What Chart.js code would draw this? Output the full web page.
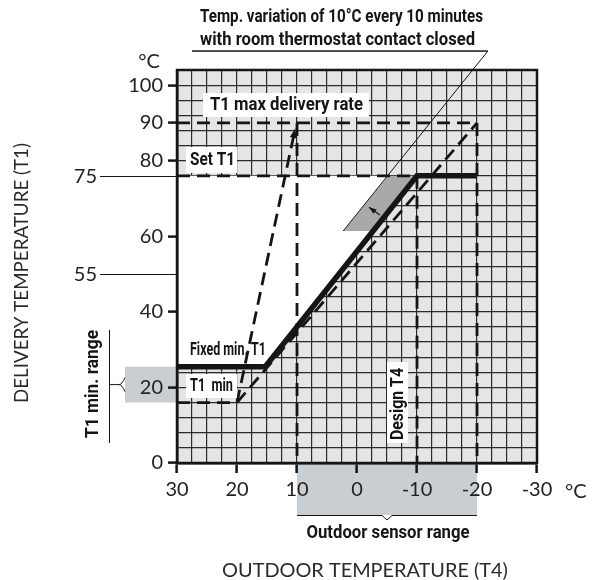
<!DOCTYPE html>
<html>
<head>
<meta charset="utf-8">
<script src="https://cdn.jsdelivr.net/npm/chart.js@4"></script>
<style>
  html, body { margin: 0; padding: 0; background: #fff; }
  #contenedor { width: 593px; height: 580px; position: relative; }
</style>
</head>
<body>
<div id="contenedor"><canvas id="grafico"></canvas></div>
<script>
// ejes
const xTickLabels = [30, 20, 10, 0, -10, -20, -30];
const yTickLabels = [0, 20, 40, 60, 80, 90, 100];
const xGrid = [];
for (let v = -30; v <= 30; v += 2.5) xGrid.push(v);
const yGrid = [];
for (let v = 0; v <= 104; v += 4) yGrid.push(v);
const yTicksAll = yGrid.concat([90]).sort((a, b) => a - b);

// curva de calefaccion (T4 exterior -> T1 impulsion)
const curveT4 = [30, 15.3, -10, -20];
const curveT1 = [25.5, 25.5, 76, 76];
// curva con T1 min y T1 max
const maxCurveT4 = [30, 20, -20];
const maxCurveT1 = [16, 16, 90];
const steepT4 = [20, 10.3];
const steepT1 = [16, 88.5];
const maxRateT4 = [30, -20];
const maxRateT1 = [90, 90];
const setT1T4 = [30, -10];
const setT1T1 = [76, 76];
const sensorMinT4 = [10, 10];
const sensorMinT1 = [90, 0];
const sensorMaxT4 = [-20, -20];
const sensorMaxT1 = [90, 0];
const designT4 = [-10, -10];
const designT1 = [76, 0];
// linea fina de la nota
const variationT4 = [27.5, -21.8, 2.3];
const variationT1 = [109, 109, 61.4];
// zonas
const whiteT4 = [30, -5.2, 2.3, -2.7, 15.3, 30];
const whiteT1 = [76, 76, 61.4, 61.4, 25.5, 25.5];
const bandT4 = [-5.2, -9.8, -2.7, 2.3];
const bandT1 = [76, 76, 61.4, 61.4];
const arrowT4 = [-3.8, -2.0];
const arrowT1 = [65.6, 67.7];
// referencias a la izquierda
const refLabels = ["75", "55"];
const refValues = [76, 50];
const t1MinRange = [16, 25.5];
const sensorRange = [10, -20];

const pts = (xs, ys) => xs.map((x, i) => ({ x, y: ys[i] }));
const INK = "#151515";
const TICK_FONT = "Lato";
const DASH = [13, 7];

function linea(data, width, dash, order) {
  return {
    data,
    showLine: true,
    pointRadius: 0,
    borderColor: INK,
    borderWidth: width,
    borderDash: dash || [],
    fill: false,
    tension: 0,
    order,
  };
}

// texto negrita estrecho, ajustado al ancho del original
function texto(ctx, txt, x, y, w, align, rot) {
  ctx.save();
  ctx.font = "bold 19px Roboto";
  const k = w / ctx.measureText(txt).width;
  ctx.translate(x, y);
  if (rot) ctx.rotate(rot);
  ctx.scale(k, 1);
  ctx.fillStyle = INK;
  ctx.textAlign = align;
  ctx.textBaseline = "middle";
  ctx.fillText(txt, 0, 0);
  ctx.restore();
}

function titulo(ctx, txt, x, y, w, rot) {
  ctx.save();
  ctx.font = `17px ${TICK_FONT}`;
  const size = 17 * w / ctx.measureText(txt).width;
  ctx.font = `${size}px ${TICK_FONT}`;
  ctx.fillStyle = "#2a2a2a";
  ctx.textAlign = "center";
  ctx.textBaseline = "middle";
  ctx.translate(x, y);
  if (rot) ctx.rotate(rot);
  ctx.fillText(txt, 0, 0);
  ctx.restore();
}

function poligono(chart, xs, ys, color) {
  const { ctx, scales } = chart;
  ctx.save();
  ctx.beginPath();
  xs.forEach((v, i) => {
    const px = scales.x.getPixelForValue(v);
    const py = scales.y.getPixelForValue(ys[i]);
    i ? ctx.lineTo(px, py) : ctx.moveTo(px, py);
  });
  ctx.closePath();
  ctx.fillStyle = color;
  ctx.fill();
  ctx.restore();
}

function punta(ctx, x0, y0, x1, y1, len, open) {
  const ang = Math.atan2(y1 - y0, x1 - x0);
  ctx.beginPath();
  ctx.moveTo(x1, y1);
  ctx.lineTo(x1 - len * Math.cos(ang - 0.35), y1 - len * Math.sin(ang - 0.35));
  ctx.lineTo(x1 - len * Math.cos(ang + 0.35), y1 - len * Math.sin(ang + 0.35));
  ctx.closePath();
  ctx.fillStyle = INK;
  ctx.fill();
}

function caja(ctx, x, y, w, h) {
  ctx.fillStyle = "#fff";
  ctx.fillRect(x, y, w, h);
}

const fondo = {
  id: "fondo",
  beforeDraw(chart) {
    const { ctx, chartArea: a, scales } = chart;
    ctx.save();
    ctx.fillStyle = "#e5e5e5";
    ctx.fillRect(a.left, a.top, a.right - a.left, a.bottom - a.top);
    // rango T1 min (a la izquierda del eje)
    const y1 = scales.y.getPixelForValue(t1MinRange[1]);
    const y0 = scales.y.getPixelForValue(t1MinRange[0]);
    ctx.fillStyle = "#c9ced3";
    ctx.fillRect(a.left - 52, y1, 52, y0 - y1);
    // rango sonda exterior (debajo del eje)
    const x0 = scales.x.getPixelForValue(sensorRange[0]);
    const x1 = scales.x.getPixelForValue(sensorRange[1]);
    ctx.fillRect(x0, a.bottom, x1 - x0, 52);
    ctx.restore();
  },
  beforeDatasetsDraw(chart) {
    poligono(chart, whiteT4, whiteT1, "#ffffff");
    poligono(chart, bandT4, bandT1, "#a9a9a9");
  },
  afterDatasetsDraw(chart) {
    const { ctx, chartArea: a, scales } = chart;
    const px = (v) => scales.x.getPixelForValue(v);
    const py = (v) => scales.y.getPixelForValue(v);
    ctx.save();
    // marco
    ctx.strokeStyle = INK;
    ctx.lineWidth = 2.5;
    ctx.strokeRect(a.left, a.top, a.right - a.left, a.bottom - a.top);

    // flecha dentro de la banda
    ctx.lineWidth = 1.2;
    ctx.beginPath();
    ctx.moveTo(px(arrowT4[0]), py(arrowT1[0]));
    ctx.lineTo(px(arrowT4[1]), py(arrowT1[1]));
    ctx.stroke();
    punta(ctx, px(arrowT4[0]), py(arrowT1[0]), px(arrowT4[1]), py(arrowT1[1]), 8);
    // punta de la recta de maxima pendiente
    punta(ctx, px(steepT4[0]), py(steepT1[0]), px(steepT4[1]), py(steepT1[1]), 10);

    // cajas blancas de las etiquetas
    caja(ctx, 203, 93, 166, 24);
    caja(ctx, 186, 147, 51, 26);
    caja(ctx, 186, 374, 51, 24);
    caja(ctx, 387, 362, 21, 81);

    texto(ctx, "Temp. variation of 10°C every 10 minutes", 200, 17, 283, "left");
    texto(ctx, "with room thermostat contact closed", 200, 40, 275, "left");
    texto(ctx, "T1 max delivery rate", 210, 105, 153, "left");
    texto(ctx, "Set T1", 190, 160, 45, "left");
    texto(ctx, "Fixed min. T1", 190, 350, 76, "left");
    texto(ctx, "T1  min", 190, 386, 43, "left");
    texto(ctx, "Design T4", 398, 404, 72, "center", -Math.PI / 2);
    texto(ctx, "T1 min. range", 93, 384, 108, "center", -Math.PI / 2);
    texto(ctx, "Outdoor sensor range", 388, 533, 163, "center");

    // subrayado de la nota
    ctx.strokeStyle = INK;
    ctx.lineWidth = 1;
    ctx.beginPath();
    ctx.moveTo(192, 51);
    ctx.lineTo(px(variationT4[1]), 51);
    ctx.stroke();
    ctx.restore();
  },
  afterDraw(chart) {
    const { ctx, chartArea: a, scales } = chart;
    ctx.save();
    ctx.strokeStyle = INK;
    ctx.fillStyle = "#222";
    ctx.lineWidth = 1;
    ctx.font = `20px ${TICK_FONT}`;
    ctx.textBaseline = "middle";
    // lineas de referencia 75 / 55
    refValues.forEach((v, i) => {
      const py = Math.round(scales.y.getPixelForValue(v)) + 0.5;
      ctx.beginPath();
      ctx.moveTo(100, py);
      ctx.lineTo(a.left, py);
      ctx.stroke();
      ctx.textAlign = "right";
      ctx.fillText(refLabels[i], 97, py);
    });
    // unidades
    ctx.textAlign = "center";
    ctx.fillText("°C", 149, 62);
    ctx.textAlign = "left";
    ctx.fillText("°C", 565, 492);

    // llave del rango T1 min
    const ym = scales.y.getPixelForValue((t1MinRange[0] + t1MinRange[1]) / 2);
    ctx.beginPath();
    ctx.moveTo(109.5, 330);
    ctx.lineTo(109.5, 443);
    ctx.moveTo(109.5, ym);
    ctx.lineTo(119, ym);
    ctx.moveTo(125, ym - 7);
    ctx.quadraticCurveTo(122, ym, 119, ym);
    ctx.moveTo(125, ym + 7);
    ctx.quadraticCurveTo(122, ym, 119, ym);
    ctx.stroke();

    // llave del rango de la sonda
    const x0 = scales.x.getPixelForValue(sensorRange[0]);
    const x1 = scales.x.getPixelForValue(sensorRange[1]);
    const xm = (x0 + x1) / 2;
    ctx.beginPath();
    ctx.moveTo(x0, 515.5);
    ctx.lineTo(xm - 5, 515.5);
    ctx.lineTo(xm, 520);
    ctx.lineTo(xm + 5, 515.5);
    ctx.lineTo(x1, 515.5);
    ctx.stroke();
    ctx.restore();

    // titulos de los ejes
    titulo(ctx, "OUTDOOR TEMPERATURE (T4)", 365, 571, 286);
    titulo(ctx, "DELIVERY TEMPERATURE (T1)", 22, 273, 260, -Math.PI / 2);
  },
};

const datasets = [
  linea(pts(curveT4, curveT1), 5.5, null, 0),
  linea(pts(maxCurveT4, maxCurveT1), 2.8, DASH, 1),
  linea(pts(steepT4, steepT1), 2.8, DASH, 1),
  linea(pts(maxRateT4, maxRateT1), 2.8, DASH, 1),
  linea(pts(setT1T4, setT1T1), 2.8, DASH, 1),
  linea(pts(sensorMinT4, sensorMinT1), 2.8, DASH, 1),
  linea(pts(sensorMaxT4, sensorMaxT1), 2.8, DASH, 1),
  linea(pts(designT4, designT1), 2.8, DASH, 1),
  Object.assign(linea(pts(variationT4, variationT1), 1, null, 2), { clip: false }),
];

const tickColor = (labels) => (c) =>
  c.tick && labels.includes(c.tick.value) ? INK : "transparent";

new Chart(document.getElementById("grafico"), {
  type: "scatter",
  data: { datasets },
  plugins: [fondo],
  options: {
    responsive: true,
    maintainAspectRatio: false,
    animation: false,
    devicePixelRatio: 1,
    layout: { padding: { top: 70, right: 56, left: 0, bottom: 0 } },
    plugins: { legend: { display: false }, tooltip: { enabled: false } },
    scales: {
      x: {
        type: "linear",
        reverse: true,
        min: -30,
        max: 30,
        afterBuildTicks: (s) => { s.ticks = xGrid.map((v) => ({ value: v })); },
        afterFit: (s) => { s.height = 117; },
        ticks: {
          autoSkip: false,
          maxRotation: 0,
          padding: 5,
          color: "#222",
          font: { family: TICK_FONT, size: 20 },
          callback: (v) => (xTickLabels.includes(v) ? String(v) : ""),
        },
        grid: {
          color: "#2b2b2b",
          lineWidth: 1.2,
          tickLength: 10,
          tickColor: tickColor(xTickLabels),
          tickWidth: 2.5,
        },
        border: { color: INK, width: 2.5, z: 1 },
      },
      y: {
        type: "linear",
        min: 0,
        max: 104,
        afterBuildTicks: (s) => { s.ticks = yTicksAll.map((v) => ({ value: v })); },
        afterFit: (s) => { s.width = 177; },
        ticks: {
          autoSkip: false,
          padding: 5,
          color: "#222",
          font: { family: TICK_FONT, size: 20 },
          callback: (v) => (yTickLabels.includes(v) ? String(v) : ""),
        },
        grid: {
          color: (c) => (c.tick && yGrid.includes(c.tick.value) ? "#2b2b2b" : "transparent"),
          lineWidth: 1.2,
          tickLength: 9,
          tickColor: tickColor(yTickLabels),
          tickWidth: 2.5,
        },
        border: { color: INK, width: 2.5, z: 1 },
      },
    },
  },
});
</script>
</body>
</html>
